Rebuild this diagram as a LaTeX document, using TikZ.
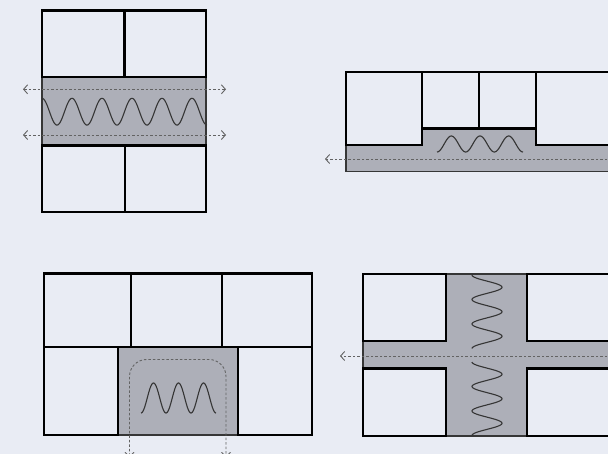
\documentclass[tikz,border=0pt]{standalone}
\usetikzlibrary{arrows.meta}
\definecolor{bg}{HTML}{E9ECF4}
\definecolor{chan}{HTML}{ADAFB8}
\definecolor{chanedge}{HTML}{363636}
\definecolor{flow}{HTML}{636363}
\definecolor{wavec}{HTML}{353535}
\tikzset{
  cellbox/.style={draw=black, line width=2.9pt, fill=bg},
  chanbox/.style={draw=chanedge, line width=1.5pt, fill=chan},
  flowline/.style={draw=flow, line width=0.9pt, dash pattern=on 2.5pt off 2pt},
  flowtip/.style={-{Straight Barb[length=4pt,width=9pt,line width=0.9pt]}},
  flowtips/.style={{Straight Barb[length=4pt,width=9pt,line width=0.9pt]}-{Straight Barb[length=4pt,width=9pt,line width=0.9pt]}},
  waveline/.style={draw=wavec, line width=1.1pt}
}
\begin{document}
\begin{tikzpicture}[x=1pt,y=-1pt]
\useasboundingbox (0,0) rectangle (608,454);
\fill[bg] (0,0) rectangle (608,454);
\clip (0,0) rectangle (608,454);

% ---------- Panel 1 (top left) ----------
\path[chanbox] (42,77) rectangle (206,145.5);
\draw[waveline] plot[domain=0:165, samples=220, smooth] ({\x+42}, {111.7 - 13.4*cos(12*\x)});
\path[cellbox] (42,10.5) rectangle (124.3,77);
\path[cellbox] (124.3,10.5) rectangle (206,77);
\path[cellbox] (42,145.5) rectangle (125,212);
\path[cellbox] (125,145.5) rectangle (206,212);
\coordinate (p1aL) at (23,89.3);
\coordinate (p1aR) at (226,89.3);
\coordinate (p1bL) at (23,135);
\coordinate (p1bR) at (226,135);
\draw[flowline, flowtips] (p1aL) -- (p1aR);
\draw[flowline, flowtips] (p1bL) -- (p1bR);

% ---------- Panel 2 (top right) ----------
\path[chanbox] (346,128.5) rectangle (625,171.7);
\draw[waveline] plot[domain=0:86, samples=150, smooth] ({\x+437}, {144 + 8*cos(12.558*\x)});
\path[cellbox] (346,72) rectangle (422,145);
\path[cellbox] (422,72) rectangle (479,128.5);
\path[cellbox] (479,72) rectangle (536,128.5);
\path[cellbox] (536,72) rectangle (625,145);
\coordinate (p2L) at (325,159);
\coordinate (p2R) at (625,159);
\draw[flowline, flowtip] (p2R) -- (p2L);

% ---------- Panel 3 (bottom left) ----------
\path[chanbox] (118,347) rectangle (238,435);
\draw[waveline] plot[domain=0:75, samples=150, smooth] ({\x+141}, {398 + 15*cos(14.4*\x)});
\path[cellbox] (44,273.5) rectangle (131,347);
\path[cellbox] (131,273.5) rectangle (222,347);
\path[cellbox] (222,273.5) rectangle (312,347);
\path[cellbox] (44,347) rectangle (118,435);
\path[cellbox] (238,347) rectangle (312,435);
\coordinate (p3L) at (129.5,457);
\coordinate (p3R) at (226,457);
\draw[flowline, flowtips, rounded corners=17pt] (p3L) -- (129.5,359.5) -- (226,359.5) -- (p3R);

% ---------- Panel 4 (bottom right) ----------
\path[chanbox] (363,274) rectangle (625,436);
\draw[waveline] plot[domain=0:73.5, samples=150, smooth] ({487 - 15*cos(14.694*\x)}, {\x+275});
\draw[waveline] plot[domain=0:73.5, samples=150, smooth] ({487 - 15*cos(14.694*\x)}, {\x+362});
\path[cellbox] (363,274) rectangle (446,341);
\path[cellbox] (363,368.3) rectangle (446,436);
\path[cellbox] (527,274) rectangle (625,341);
\path[cellbox] (527,368.3) rectangle (625,436);
\coordinate (p4L) at (340,356);
\coordinate (p4R) at (625,356);
\draw[flowline, flowtip] (p4R) -- (p4L);
\end{tikzpicture}
\end{document}
